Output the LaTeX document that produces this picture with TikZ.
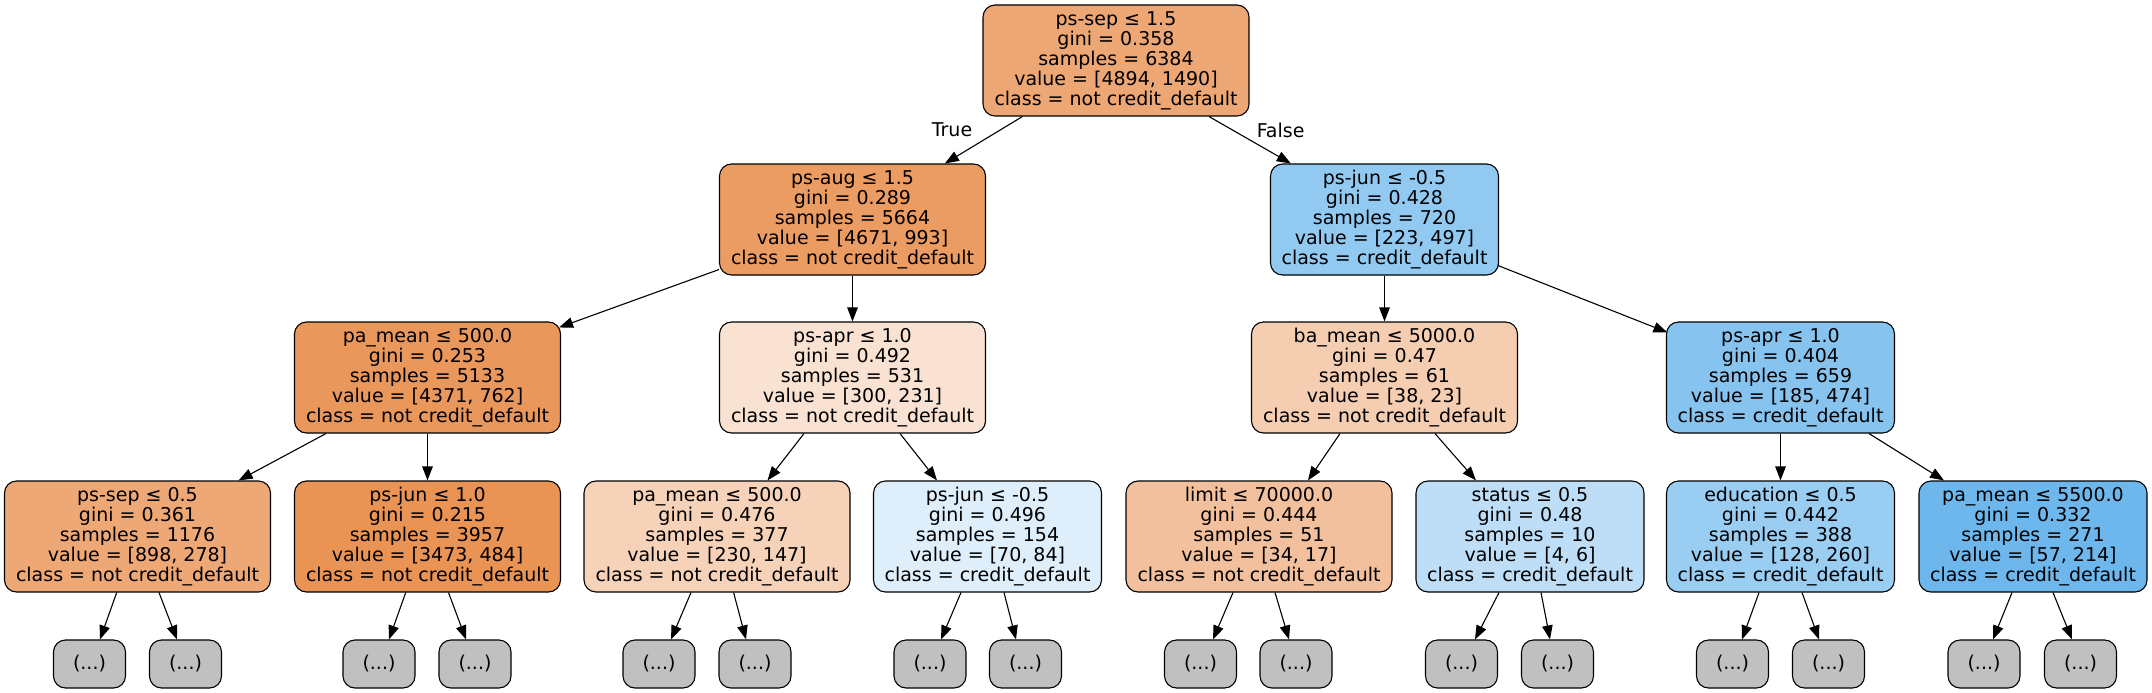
\documentclass[tikz,border=0pt]{standalone}
\usepackage{fontspec}
\setmainfont{DejaVu Sans}
\usetikzlibrary{arrows.meta}
\definecolor{cA}{RGB}{237,167,117}
\definecolor{cB}{RGB}{235,156,99}
\definecolor{cC}{RGB}{146,201,241}
\definecolor{cD}{RGB}{234,151,92}
\definecolor{cE}{RGB}{249,226,209}
\definecolor{cF}{RGB}{245,205,177}
\definecolor{cG}{RGB}{134,195,239}
\definecolor{cH}{RGB}{237,168,118}
\definecolor{cI}{RGB}{233,147,85}
\definecolor{cJ}{RGB}{246,210,184}
\definecolor{cK}{RGB}{222,239,251}
\definecolor{cL}{RGB}{242,192,156}
\definecolor{cM}{RGB}{189,222,246}
\definecolor{cN}{RGB}{154,205,242}
\definecolor{cO}{RGB}{110,183,236}
\definecolor{leafgray}{RGB}{192,192,192}
\tikzset{
  tn/.style={draw=black, line width=1.1pt, rounded corners=12pt, inner sep=0pt,
    align=center, font=\fontsize{19}{20}\selectfont, minimum height=111pt},
  orw/.style={tn, minimum width=266pt},
  blw/.style={tn, minimum width=228pt},
  leafbox/.style={draw=black, line width=1.1pt, rounded corners=12pt, fill=leafgray,
    minimum width=72pt, minimum height=48pt, inner sep=0pt, font=\fontsize{19}{20}\selectfont},
  arr/.style={draw=black, line width=1.1pt, -{Triangle[length=14pt,width=10.5pt]}},
  elab/.style={font=\fontsize{19}{20}\selectfont, inner sep=0pt}
}
\begin{document}
\begin{tikzpicture}[x=1pt,y=-1pt]
\fill[white] (0,0) rectangle (2152,693);
\useasboundingbox (0,0) rectangle (2152,693);
% level 0
\node[orw, fill=cA] (n1) at (1116,60.5) {ps-sep ≤ 1.5\\gini = 0.358\\samples = 6384\\value = [4894, 1490]\\class = not credit\_default};
% level 1
\node[orw, fill=cB] (n2) at (852.5,219.5) {ps-aug ≤ 1.5\\gini = 0.289\\samples = 5664\\value = [4671, 993]\\class = not credit\_default};
\node[blw, fill=cC] (n3) at (1384.5,219.5) {ps-jun ≤ -0.5\\gini = 0.428\\samples = 720\\value = [223, 497]\\class = credit\_default};
% level 2
\node[orw, fill=cD] (n4) at (427.5,377.5) {pa\_mean ≤ 500.0\\gini = 0.253\\samples = 5133\\value = [4371, 762]\\class = not credit\_default};
\node[orw, fill=cE] (n5) at (852.5,377.5) {ps-apr ≤ 1.0\\gini = 0.492\\samples = 531\\value = [300, 231]\\class = not credit\_default};
\node[orw, fill=cF] (n6) at (1384.5,377.5) {ba\_mean ≤ 5000.0\\gini = 0.47\\samples = 61\\value = [38, 23]\\class = not credit\_default};
\node[blw, fill=cG] (n7) at (1780.5,377.5) {ps-apr ≤ 1.0\\gini = 0.404\\samples = 659\\value = [185, 474]\\class = credit\_default};
% level 3
\node[orw, fill=cH] (n8) at (137.5,536.5) {ps-sep ≤ 0.5\\gini = 0.361\\samples = 1176\\value = [898, 278]\\class = not credit\_default};
\node[orw, fill=cI] (n9) at (427.5,536.5) {ps-jun ≤ 1.0\\gini = 0.215\\samples = 3957\\value = [3473, 484]\\class = not credit\_default};
\node[orw, fill=cJ] (n10) at (717,536.5) {pa\_mean ≤ 500.0\\gini = 0.476\\samples = 377\\value = [230, 147]\\class = not credit\_default};
\node[blw, fill=cK] (n11) at (987.5,536.5) {ps-jun ≤ -0.5\\gini = 0.496\\samples = 154\\value = [70, 84]\\class = credit\_default};
\node[orw, fill=cL] (n12) at (1259,536.5) {limit ≤ 70000.0\\gini = 0.444\\samples = 51\\value = [34, 17]\\class = not credit\_default};
\node[blw, fill=cM] (n13) at (1530,536.5) {status ≤ 0.5\\gini = 0.48\\samples = 10\\value = [4, 6]\\class = credit\_default};
\node[blw, fill=cN] (n14) at (1780.5,536.5) {education ≤ 0.5\\gini = 0.442\\samples = 388\\value = [128, 260]\\class = credit\_default};
\node[blw, fill=cO] (n15) at (2033,536.5) {pa\_mean ≤ 5500.0\\gini = 0.332\\samples = 271\\value = [57, 214]\\class = credit\_default};
% leaves
\node[leafbox] (l1) at (89.5,664) {(...)};
\node[leafbox] (l2) at (185.5,664) {(...)};
\node[leafbox] (l3) at (379,664) {(...)};
\node[leafbox] (l4) at (475,664) {(...)};
\node[leafbox] (l5) at (659,664) {(...)};
\node[leafbox] (l6) at (755,664) {(...)};
\node[leafbox] (l7) at (930,664) {(...)};
\node[leafbox] (l8) at (1025.5,664) {(...)};
\node[leafbox] (l9) at (1200.5,664) {(...)};
\node[leafbox] (l10) at (1296,664) {(...)};
\node[leafbox] (l11) at (1461.5,664) {(...)};
\node[leafbox] (l12) at (1557.5,664) {(...)};
\node[leafbox] (l13) at (1732.5,664) {(...)};
\node[leafbox] (l14) at (1828.5,664) {(...)};
\node[leafbox] (l15) at (1984,664) {(...)};
\node[leafbox] (l16) at (2080.5,664) {(...)};
% edges level 0 -> 1
\draw[arr] ([xshift=-93.6pt]n1.south) -- ([xshift=92.4pt]n2.north);
\draw[arr] ([xshift=93pt]n1.south) -- ([xshift=-93.7pt]n3.north);
\node[elab] (tlab) at (952,130) {True};
\node[elab] (flab) at (1280.6,130) {False};
% level 1 -> 2
\draw[arr] ([yshift=6pt]n2.south west) -- ([xshift=-2pt,yshift=-6pt]n4.north east);
\draw[arr] (n2.south) -- (n5.north);
\draw[arr] (n3.south) -- (n6.north);
\draw[arr] ([xshift=-1pt,yshift=10pt]n3.south east) -- ([xshift=1.5pt,yshift=-11pt]n7.north west);
% level 2 -> 3
\draw[arr] ([xshift=-101.5pt]n4.south) -- ([xshift=101.1pt]n8.north);
\draw[arr] (n4.south) -- (n9.north);
\draw[arr] ([xshift=-48.5pt]n5.south) -- ([xshift=50.5pt]n10.north);
\draw[arr] ([xshift=47.5pt]n5.south) -- ([xshift=-50.5pt]n11.north);
\draw[arr] ([xshift=-44.5pt]n6.south) -- ([xshift=49pt]n12.north);
\draw[arr] ([xshift=50.5pt]n6.south) -- ([xshift=-54pt]n13.north);
\draw[arr] (n7.south) -- (n14.north);
\draw[arr] ([xshift=88.5pt]n7.south) -- ([xshift=-89pt]n15.north);
% level 3 -> leaves
\draw[arr] ([xshift=-20.8pt]n8.south) -- ([xshift=10.5pt]l1.north);
\draw[arr] ([xshift=21.5pt]n8.south) -- ([xshift=-8.5pt]l2.north);
\draw[arr] ([xshift=-21.8pt]n9.south) -- ([xshift=10pt]l3.north);
\draw[arr] ([xshift=21pt]n9.south) -- ([xshift=-9pt]l4.north);
\draw[arr] ([xshift=-26pt]n10.south) -- ([xshift=12pt]l5.north);
\draw[arr] ([xshift=16.6pt]n10.south) -- ([xshift=-9pt]l6.north);
\draw[arr] ([xshift=-26.5pt]n11.south) -- ([xshift=11pt]l7.north);
\draw[arr] ([xshift=16.5pt]n11.south) -- ([xshift=-9.5pt]l8.north);
\draw[arr] ([xshift=-26pt]n12.south) -- ([xshift=12.5pt]l9.north);
\draw[arr] ([xshift=16pt]n12.south) -- ([xshift=-7pt]l10.north);
\draw[arr] ([xshift=-31pt]n13.south) -- ([xshift=13.5pt]l11.north);
\draw[arr] ([xshift=11pt]n13.south) -- ([xshift=-7.5pt]l12.north);
\draw[arr] ([xshift=-21.5pt]n14.south) -- ([xshift=9.5pt]l13.north);
\draw[arr] ([xshift=21.5pt]n14.south) -- ([xshift=-9.5pt]l14.north);
\draw[arr] ([xshift=-21pt]n15.south) -- ([xshift=9pt]l15.north);
\draw[arr] ([xshift=20pt]n15.south) -- ([xshift=-8.5pt]l16.north);
\end{tikzpicture}
\end{document}
